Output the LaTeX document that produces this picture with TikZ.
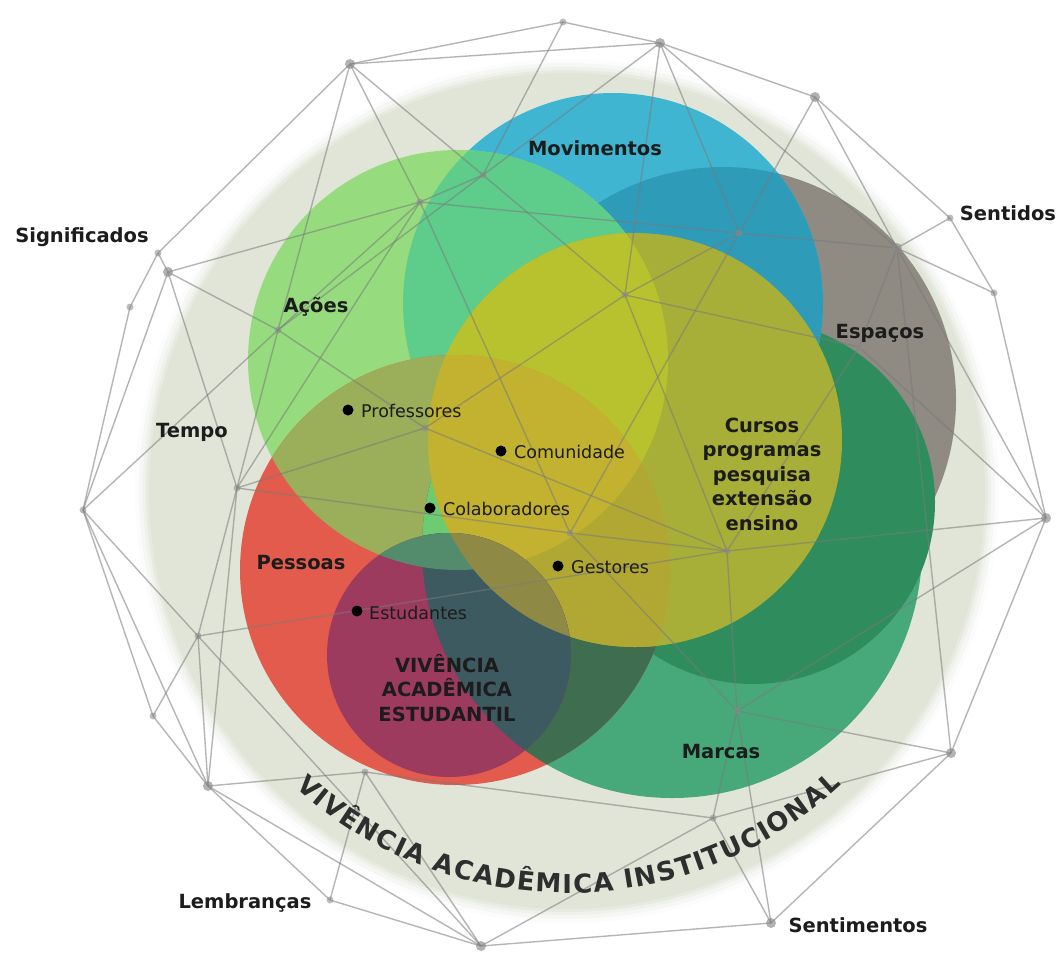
\documentclass[tikz,border=0pt]{standalone}
\usepackage{fontspec}
\setmainfont{DejaVu Sans}
\usetikzlibrary{decorations.text}

% palette
\definecolor{paleC}{HTML}{E1E5D8}
\definecolor{marC}{HTML}{47A97A}
\definecolor{espC}{HTML}{8F8B82}
\definecolor{curC}{HTML}{2F8C5D}
\definecolor{movC}{HTML}{3FB5D1}
\definecolor{movEspC}{HTML}{2E9BB9}
\definecolor{acoC}{HTML}{96DC7E}
\definecolor{acoMovC}{HTML}{5ECD8C}
\definecolor{pesC}{HTML}{E25B4D}
\definecolor{pesAcoC}{HTML}{9BAE59}
\definecolor{pesMarC}{HTML}{3F6D50}
\definecolor{pesAcoMarC}{HTML}{6DCC72}
\definecolor{yelC}{HTML}{A8AF38}
\definecolor{yelAcoC}{HTML}{B8C22E}
\definecolor{yelPesC}{HTML}{B1A834}
\definecolor{yelPesAcoC}{HTML}{C2B22F}
\definecolor{vivC}{HTML}{9C3B5E}
\definecolor{vivMarC}{HTML}{3C5A60}
\definecolor{vivAcoC}{HTML}{528C6C}
\definecolor{vivYelC}{HTML}{8E8A46}
\definecolor{meshC}{HTML}{7A7A7A}
\definecolor{vtxC}{HTML}{8A8A8A}
\definecolor{inkC}{HTML}{1C1C1C}
\definecolor{arcC}{HTML}{2E2E2E}

\newcommand\lblfont{\fontsize{19.5}{24.5}\selectfont\bfseries}
\newcommand\smallfont{\fontsize{17.5}{20}\selectfont}
\newcommand\arcfont{\fontsize{26}{30}\selectfont\bfseries}

\tikzset{
  pMar/.style={insert path={(672,548) circle[radius=250]}},
  pEsp/.style={insert path={(723,400) circle[radius=233]}},
  pCur/.style={insert path={(753,502) circle[radius=182]}},
  pMov/.style={insert path={(613,303) circle[radius=210]}},
  pAco/.style={insert path={(458,360) circle[radius=210]}},
  pYel/.style={insert path={(635,440) circle[radius=207]}},
  pPes/.style={insert path={(455,570) circle[radius=215]}},
  pViv/.style={insert path={(449,655) circle[radius=122]}},
  mesh/.style={draw=meshC, line width=1.4pt, opacity=0.55},
  lbl/.style={inner sep=0pt, text=inkC, font=\lblfont},
  smalllbl/.style={inner sep=0pt, text=inkC, font=\smallfont, anchor=west},
  bullet/.style={circle, fill=black, inner sep=0pt, minimum size=11pt},
}

\begin{document}
\begin{tikzpicture}[x=1pt,y=-1pt]
\useasboundingbox (0,0) rectangle (1059,956);
\fill[white] (0,0) rectangle (1059,956);

% soft pale disk behind everything
\foreach \r/\o in {432/0.10,428/0.18,424/0.3,421/0.5,418/1}
  \fill[paleC, opacity=\o] (567,491) circle[radius=\r];

% base discs, back to front
\fill[marC, pMar];
\fill[espC, pEsp];
\fill[curC, pCur];
\fill[movC, pMov];
\begin{scope}\clip[pMov]; \fill[movEspC, pEsp]; \end{scope}
\fill[acoC, pAco];
\begin{scope}\clip[pAco]; \fill[acoMovC, pMov]; \end{scope}
\fill[pesC, pPes];
\begin{scope}\clip[pPes]; \fill[pesAcoC, pAco]; \end{scope}
\begin{scope}\clip[pPes]; \fill[pesMarC, pMar]; \end{scope}
\begin{scope}\clip[pPes]; \clip[pAco]; \fill[pesAcoMarC, pMar]; \end{scope}
\fill[yelC, pYel];
\begin{scope}\clip[pYel]; \fill[yelAcoC, pAco]; \end{scope}
\begin{scope}\clip[pYel]; \fill[yelPesC, pPes]; \end{scope}
\begin{scope}\clip[pYel]; \clip[pPes]; \fill[yelPesAcoC, pAco]; \end{scope}
\fill[vivC, pViv];
\begin{scope}\clip[pViv]; \fill[vivMarC, pMar]; \end{scope}
\begin{scope}\clip[pViv]; \fill[vivAcoC, pAco]; \end{scope}
\begin{scope}\clip[pViv]; \fill[vivYelC, pYel]; \end{scope}

% mesh vertices
\coordinate (vA) at (350,64);
\coordinate (vB) at (563,22);
\coordinate (vC) at (660,43);
\coordinate (vD) at (815,97);
\coordinate (vE) at (950,218);
\coordinate (vF) at (897,248);
\coordinate (vG) at (994,293);
\coordinate (vH) at (1046,518);
\coordinate (vI) at (951,753);
\coordinate (vJ) at (771,923);
\coordinate (vK) at (481,946);
\coordinate (vL) at (330,900);
\coordinate (vM) at (208,786);
\coordinate (vN) at (153,716);
\coordinate (vO) at (198,636);
\coordinate (vP) at (83,510);
\coordinate (vQ) at (237,488);
\coordinate (vR) at (168,272);
\coordinate (vS) at (158,253);
\coordinate (vT) at (130,307);
\coordinate (vU) at (278,330);
\coordinate (vV) at (420,202);
\coordinate (vW) at (483,175);
\coordinate (vX) at (625,295);
\coordinate (vY) at (739,233);
\coordinate (vZ) at (859,347);
\coordinate (vAA) at (570,533);
\coordinate (vBB) at (727,551);
\coordinate (vCC) at (737,711);
\coordinate (vDD) at (713,818);
\coordinate (vEE) at (425,428);
\coordinate (vFF) at (365,772);

% mesh edges
\foreach \a/\b in {
  vA/vB, vB/vC, vC/vD, vD/vE, vE/vG, vG/vH, vH/vI, vI/vJ, vJ/vK, vK/vL,
  vL/vM, vM/vN, vN/vP, vP/vT, vT/vS, vS/vA,
  vS/vR, vR/vP, vR/vU, vR/vV, vR/vQ,
  vA/vC, vA/vU, vA/vV, vA/vW, vB/vW, vW/vC, vC/vX, vC/vY, vC/vF,
  vD/vF, vD/vY, vE/vF, vF/vG, vF/vY, vF/vI, vF/vZ, vF/vH,
  vU/vQ, vU/vP, vU/vV, vU/vW, vU/vEE,
  vV/vW, vV/vY, vV/vQ, vV/vAA, vW/vX,
  vX/vY, vX/vZ, vX/vBB, vX/vEE, vY/vAA,
  vZ/vH, vZ/vBB, vH/vBB, vH/vCC,
  vI/vCC, vI/vDD, vJ/vDD, vJ/vCC,
  vK/vM, vK/vDD, vK/vO, vK/vFF, vL/vFF,
  vM/vP, vM/vQ, vM/vFF,
  vO/vP, vO/vQ, vO/vN, vO/vM, vO/vBB,
  vEE/vBB, vEE/vQ, vAA/vBB, vAA/vCC, vAA/vQ,
  vBB/vCC, vCC/vDD, vDD/vFF}
  \draw[mesh] (\a) -- (\b);

% vertex dots
\foreach \v in {vA,vC,vD,vF,vH,vI,vM,vR,vK,vJ}
  \fill[vtxC, opacity=0.65] (\v) circle[radius=5];
\foreach \v in {vB,vE,vG,vL,vN,vO,vP,vQ,vS,vT,vU,vV,vW,vX,vY,vZ,vAA,vBB,vCC,vDD,vEE,vFF}
  \fill[vtxC, opacity=0.55] (\v) circle[radius=3.5];

% curved title along the pale disk
\path[decorate, decoration={text along path,
      text={|\arcfont\color{arcC}|VIVÊNCIA ACADÊMICA INSTITUCIONAL},
      text align=fit to path}]
  (567,491) ++(132.5:402) arc[start angle=132.5, end angle=47, radius=402];

% outer labels
\node[lbl] (tSig) at (82,237) {Significados};
\node[lbl] (tTem) at (192,432) {Tempo};
\node[lbl] (tSen) at (1008,213) {Sentidos};
\node[lbl] (tLem) at (245,903) {Lembranças};
\node[lbl] (tSnt) at (858,925) {Sentimentos};

% circle labels
\node[lbl] (tMov) at (595,148) {Movimentos};
\node[lbl] (tAco) at (316,307) {Ações};
\node[lbl] (tEsp) at (880,333) {Espaços};
\node[lbl] (tPes) at (301,563) {Pessoas};
\node[lbl] (tMar) at (721,752) {Marcas};
\node[lbl, align=center] (tCur) at (762,474)
  {Cursos\\programas\\pesquisa\\extensão\\ensino};
\node[lbl, align=center] (tViv) at (447,688)
  {VIVÊNCIA\\ACADÊMICA\\ESTUDANTIL};

% people
\node[bullet] (dProf) at (348,410) {};
\node[smalllbl] (tProf) at (361,411) {Professores};
\node[bullet] (dCom) at (501,451) {};
\node[smalllbl] (tCom) at (514,452) {Comunidade};
\node[bullet] (dCol) at (430,508) {};
\node[smalllbl] (tCol) at (443,509) {Colaboradores};
\node[bullet] (dGes) at (558,566) {};
\node[smalllbl] (tGes) at (571,567) {Gestores};
\node[bullet] (dEst) at (357,611) {};
\node[smalllbl] (tEst) at (369,613) {Estudantes};
\end{tikzpicture}
\end{document}
